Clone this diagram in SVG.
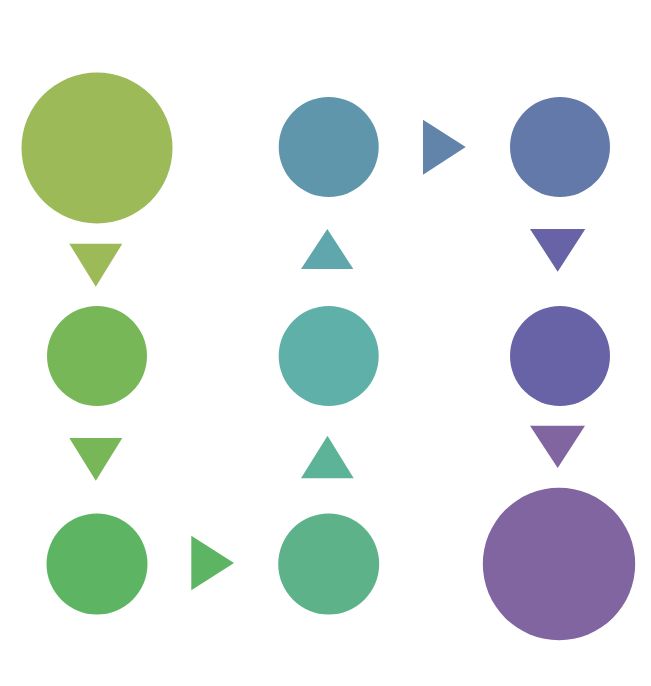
<svg xmlns="http://www.w3.org/2000/svg" width="651" height="686" viewBox="0 0 651 686">
<style>
.n{stroke:none}
.c{stroke:none}
</style>
<rect width="651" height="686" fill="#ffffff"/>
<g id="node-r1c1"><circle class="n" cx="97" cy="148" r="75.5" fill="#9dba58"/></g>
<g id="node-r1c2"><circle class="n" cx="328.7" cy="147" r="50" fill="#5f96ab"/></g>
<g id="node-r1c3"><circle class="n" cx="560" cy="147" r="50" fill="#6279a9"/></g>
<g id="node-r2c1"><circle class="n" cx="97" cy="356" r="50" fill="#77b757"/></g>
<g id="node-r2c2"><circle class="n" cx="328.7" cy="356" r="50" fill="#5fb0a8"/></g>
<g id="node-r2c3"><circle class="n" cx="560" cy="356" r="50" fill="#6763a6"/></g>
<g id="node-r3c1"><circle class="n" cx="97" cy="564" r="50.5" fill="#5db563"/></g>
<g id="node-r3c2"><circle class="n" cx="328.7" cy="564" r="50.5" fill="#5db28a"/></g>
<g id="node-r3c3"><circle class="n" cx="559" cy="564" r="76.2" fill="#8065a0"/></g>
<g id="connectors">
<polygon class="c" points="69.3,243.7 122.3,243.7 95.8,286.7" fill="#9dba58"/>
<polygon class="c" points="69.3,438 122.3,438 95.8,480.7" fill="#77b757"/>
<polygon class="c" points="191.3,535.7 191.3,590.3 234,563" fill="#5db563"/>
<polygon class="c" points="301,478.3 353.7,478.3 327.5,435.7" fill="#5db398"/>
<polygon class="c" points="301,269 353.3,269 327.3,229" fill="#5fa6ad"/>
<polygon class="c" points="423,119.7 423,174.7 465.7,147" fill="#6283aa"/>
<polygon class="c" points="530,229 585.3,229 557.7,271.7" fill="#6763a6"/>
<polygon class="c" points="530,425.7 585,425.7 557.7,468" fill="#8065a0"/>
</g>
</svg>
